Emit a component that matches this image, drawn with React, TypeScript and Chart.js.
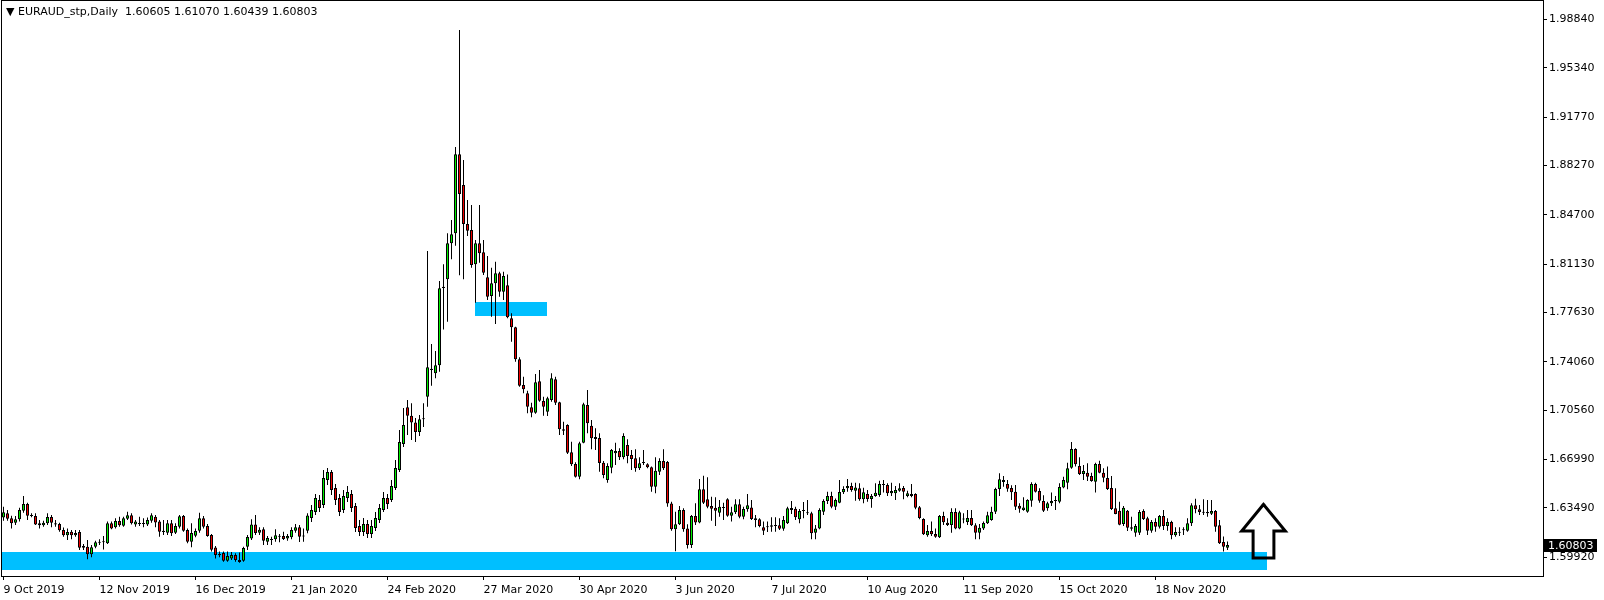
import React, { useEffect, useRef } from 'react';
import { Chart, registerables } from 'chart.js';

Chart.register(...registerables);

const symbolName = 'EURAUD_stp,Daily';

const opens = [
  1.6279,1.6310,1.6274,1.6242,1.6267,1.6329,1.6378,1.6298,1.6291,1.6238,
  1.6223,1.6238,1.6284,1.6238,1.6233,1.6189,1.6151,1.6177,1.6151,1.6175,
  1.6073,1.6069,1.6013,1.6069,1.6098,1.6100,1.6093,1.6238,1.6209,1.6254,
  1.6221,1.6271,1.6296,1.6230,1.6238,1.6232,1.6230,1.6257,1.6286,1.6250,
  1.6184,1.6170,1.6238,1.6170,1.6213,1.6291,1.6189,1.6105,1.6148,1.6184,
  1.6274,1.6218,1.6153,1.6062,1.6016,1.6023,1.5967,1.5984,1.6009,1.5972,
  1.5967,1.6069,1.6127,1.6230,1.6170,1.6194,1.6105,1.6124,1.6122,1.6141,
  1.6146,1.6127,1.6136,1.6184,1.6209,1.6143,1.6184,1.6276,1.6320,1.6406,
  1.6370,1.6551,1.6609,1.6493,1.6421,1.6334,1.6421,1.6450,1.6363,1.6218,
  1.6175,1.6233,1.6160,1.6204,1.6262,1.6334,1.6421,1.6406,1.6493,1.6623,
  1.6812,1.7077,1.7016,1.6968,1.6898,1.6990,1.7154,1.7347,1.7323,1.7381,
  1.7940,1.8003,1.8264,1.8336,1.8908,1.8686,1.8404,1.8360,1.8112,1.8264,
  1.8199,1.8018,1.7883,1.7975,1.8047,1.7914,1.7960,1.7721,1.7656,1.7424,
  1.7238,1.7178,1.7077,1.7038,1.7266,1.7123,1.7045,1.7130,1.7280,1.7113,
  1.6918,1.6949,1.6752,1.6667,1.6575,1.6821,1.7094,1.6944,1.6863,1.6855,
  1.6676,1.6551,1.6640,1.6745,1.6761,1.6715,1.6804,1.6732,1.6708,1.6636,
  1.6674,1.6665,1.6643,1.6503,1.6611,1.6689,1.6682,1.6382,1.6194,1.6231,
  1.6334,1.6201,1.6081,1.6291,1.6243,1.6484,1.6411,1.6363,1.6351,1.6315,
  1.6349,1.6411,1.6293,1.6317,1.6375,1.6286,1.6339,1.6353,1.6274,1.6267,
  1.6209,1.6216,1.6213,1.6218,1.6223,1.6199,1.6238,1.6349,1.6344,1.6267,
  1.6327,1.6315,1.6310,1.6170,1.6201,1.6322,1.6399,1.6435,1.6358,1.6387,
  1.6462,1.6491,1.6508,1.6474,1.6491,1.6411,1.6450,1.6414,1.6435,1.6443,
  1.6522,1.6515,1.6455,1.6455,1.6474,1.6494,1.6435,1.6450,1.6450,1.6354,
  1.6269,1.6151,1.6182,1.6160,1.6136,1.6291,1.6242,1.6226,1.6320,1.6201,
  1.6266,1.6247,1.6276,1.6223,1.6170,1.6201,1.6238,1.6262,1.6322,1.6486,
  1.6551,1.6522,1.6494,1.6467,1.6365,1.6334,1.6322,1.6401,1.6522,1.6472,
  1.6399,1.6346,1.6383,1.6399,1.6394,1.6496,1.6532,1.6640,1.6775,1.6652,
  1.6595,1.6604,1.6580,1.6539,1.6667,1.6604,1.6566,1.6494,1.6346,1.6329,
  1.6233,1.6329,1.6209,1.6170,1.6170,1.6327,1.6274,1.6184,1.6247,1.6213,
  1.6291,1.6218,1.6247,1.6151,1.6170,1.6187,1.6184,1.6238,1.6368,1.6339,
  1.6322,1.6320,1.6307,1.6327,1.6223,1.6102,1.60605
];

const highs = [
  1.6358,1.6334,1.6293,1.6291,1.6351,1.6435,1.6387,1.6310,1.6310,1.6262,
  1.6257,1.6310,1.6298,1.6262,1.6242,1.6208,1.6201,1.6189,1.6189,1.6189,
  1.6088,1.6117,1.6081,1.6112,1.6122,1.6146,1.6250,1.6250,1.6274,1.6286,
  1.6286,1.6322,1.6310,1.6262,1.6286,1.6274,1.6279,1.6310,1.6298,1.6262,
  1.6262,1.6262,1.6262,1.6238,1.6298,1.6298,1.6201,1.6238,1.6201,1.6315,
  1.6291,1.6233,1.6160,1.6074,1.6033,1.6033,1.6033,1.6030,1.6021,1.6026,
  1.6069,1.6153,1.6267,1.6298,1.6209,1.6209,1.6146,1.6141,1.6194,1.6160,
  1.6177,1.6160,1.6209,1.6233,1.6226,1.6201,1.6310,1.6370,1.6450,1.6443,
  1.6623,1.6638,1.6623,1.6522,1.6450,1.6479,1.6508,1.6479,1.6385,1.6262,
  1.6276,1.6262,1.6262,1.6320,1.6377,1.6464,1.6450,1.6551,1.6696,1.6913,
  1.7072,1.7130,1.7106,1.6999,1.7021,1.7106,1.8208,1.7535,1.7485,1.7992,
  1.8112,1.8336,1.8432,1.8961,1.9807,1.8867,1.8577,1.8541,1.8288,1.8541,
  1.8288,1.8172,1.8087,1.8131,1.8058,1.8058,1.8039,1.7758,1.7660,1.7439,
  1.7299,1.7197,1.7110,1.7318,1.7347,1.7154,1.7154,1.7323,1.7299,1.7118,
  1.6973,1.6954,1.6828,1.6679,1.6828,1.7110,1.7202,1.6985,1.6925,1.6890,
  1.6689,1.6672,1.6775,1.6821,1.6780,1.6889,1.6846,1.6768,1.6773,1.6715,
  1.6768,1.6672,1.6648,1.6715,1.6708,1.6773,1.6689,1.6394,1.6322,1.6363,
  1.6346,1.6231,1.6298,1.6383,1.6559,1.6582,1.6571,1.6430,1.6426,1.6406,
  1.6387,1.6419,1.6358,1.6411,1.6411,1.6358,1.6450,1.6406,1.6298,1.6274,
  1.6250,1.6250,1.6281,1.6281,1.6274,1.6291,1.6358,1.6399,1.6358,1.6341,
  1.6392,1.6406,1.6322,1.6226,1.6346,1.6411,1.6467,1.6467,1.6418,1.6551,
  1.6506,1.6559,1.6531,1.6531,1.6527,1.6495,1.6479,1.6450,1.6527,1.6546,
  1.6551,1.6527,1.6531,1.6508,1.6527,1.6508,1.6474,1.6522,1.6455,1.6363,
  1.6274,1.6226,1.6250,1.6201,1.6298,1.6322,1.6274,1.6346,1.6346,1.6329,
  1.6310,1.6334,1.6334,1.6238,1.6233,1.6250,1.6322,1.6358,1.6495,1.6600,
  1.6580,1.6551,1.6513,1.6515,1.6383,1.6426,1.6411,1.6534,1.6531,1.6491,
  1.6440,1.6394,1.6460,1.6435,1.6527,1.6575,1.6676,1.6826,1.6780,1.6715,
  1.6660,1.6672,1.6604,1.6676,1.6691,1.6636,1.6648,1.6580,1.6491,1.6394,
  1.6363,1.6334,1.6286,1.6233,1.6334,1.6339,1.6286,1.6262,1.6274,1.6298,
  1.6334,1.6274,1.6257,1.6209,1.6209,1.6209,1.6274,1.6383,1.6416,1.6370,
  1.6411,1.6406,1.6406,1.6334,1.6262,1.6143,1.61070
];

const lows = [
  1.6257,1.6257,1.6201,1.6226,1.6250,1.6315,1.6262,1.6281,1.6226,1.6201,
  1.6213,1.6226,1.6209,1.6213,1.6177,1.6141,1.6117,1.6122,1.6141,1.6045,
  1.6045,1.5977,1.5992,1.6057,1.6081,1.6049,1.6088,1.6194,1.6201,1.6213,
  1.6213,1.6262,1.6230,1.6213,1.6218,1.6209,1.6218,1.6242,1.6209,1.6141,
  1.6153,1.6153,1.6146,1.6160,1.6201,1.6177,1.6093,1.6064,1.6136,1.6170,
  1.6201,1.6141,1.6033,1.5984,1.5992,1.5960,1.5960,1.5972,1.5960,1.5953,
  1.5960,1.6045,1.6117,1.6153,1.6153,1.6081,1.6081,1.6081,1.6105,1.6100,
  1.6117,1.6112,1.6122,1.6170,1.6102,1.6105,1.6165,1.6247,1.6298,1.6320,
  1.6349,1.6515,1.6443,1.6370,1.6291,1.6312,1.6392,1.6320,1.6175,1.6146,
  1.6146,1.6131,1.6131,1.6182,1.6240,1.6320,1.6341,1.6392,1.6479,1.6609,
  1.6790,1.6877,1.6840,1.6826,1.6870,1.6935,1.7082,1.7234,1.7287,1.7335,
  1.7641,1.7697,1.8148,1.8247,1.8032,1.8003,1.8317,1.8087,1.7834,1.8124,
  1.8034,1.7854,1.7733,1.7680,1.7877,1.7854,1.7721,1.7552,1.7407,1.7226,
  1.7178,1.7034,1.7005,1.7030,1.7118,1.7016,1.7014,1.7118,1.7094,1.6877,
  1.6877,1.6740,1.6652,1.6570,1.6556,1.6817,1.6889,1.6773,1.6768,1.6611,
  1.6564,1.6532,1.6600,1.6660,1.6696,1.6701,1.6672,1.6624,1.6611,1.6624,
  1.6660,1.6636,1.6467,1.6455,1.6587,1.6624,1.6358,1.6184,1.6035,1.6226,
  1.6177,1.6055,1.6060,1.6226,1.6238,1.6378,1.6346,1.6257,1.6218,1.6286,
  1.6262,1.6286,1.6250,1.6305,1.6274,1.6267,1.6322,1.6262,1.6209,1.6209,
  1.6153,1.6175,1.6177,1.6177,1.6190,1.6184,1.6233,1.6305,1.6262,1.6238,
  1.6274,1.6298,1.6122,1.6122,1.6194,1.6298,1.6378,1.6346,1.6334,1.6383,
  1.6450,1.6467,1.6467,1.6401,1.6401,1.6383,1.6394,1.6351,1.6430,1.6430,
  1.6460,1.6436,1.6436,1.6406,1.6467,1.6411,1.6426,1.6426,1.6339,1.6267,
  1.6153,1.6141,1.6146,1.6134,1.6132,1.6226,1.6218,1.6170,1.6194,1.6194,
  1.6238,1.6226,1.6218,1.6122,1.6122,1.6190,1.6233,1.6257,1.6305,1.6435,
  1.6503,1.6467,1.6406,1.6334,1.6315,1.6329,1.6315,1.6358,1.6460,1.6387,
  1.6320,1.6329,1.6363,1.6334,1.6383,1.6491,1.6484,1.6633,1.6648,1.6587,
  1.6551,1.6544,1.6539,1.6460,1.6600,1.6534,1.6479,1.6334,1.6303,1.6223,
  1.6218,1.6182,1.6184,1.6141,1.6153,1.6262,1.6153,1.6170,1.6177,1.6201,
  1.6190,1.6184,1.6122,1.6141,1.6146,1.6153,1.6177,1.6218,1.6310,1.6298,
  1.6298,1.6286,1.6298,1.6177,1.6088,1.6033,1.60439
];

const closes = [
  1.6317,1.6271,1.6238,1.6267,1.6334,1.6378,1.6293,1.6291,1.6230,1.6223,
  1.6242,1.6284,1.6242,1.6230,1.6187,1.6151,1.6175,1.6151,1.6168,1.6061,
  1.6061,1.6013,1.6064,1.6100,1.6105,1.6105,1.6238,1.6201,1.6254,1.6223,
  1.6274,1.6296,1.6238,1.6250,1.6232,1.6238,1.6262,1.6296,1.6243,1.6177,
  1.6175,1.6238,1.6165,1.6218,1.6288,1.6184,1.6105,1.6168,1.6182,1.6274,
  1.6213,1.6146,1.6047,1.6009,1.6006,1.5967,1.6001,1.6009,1.5972,1.5958,
  1.6059,1.6139,1.6230,1.6168,1.6192,1.6112,1.6131,1.6117,1.6151,1.6146,
  1.6124,1.6146,1.6189,1.6209,1.6141,1.6150,1.6295,1.6334,1.6421,1.6349,
  1.6566,1.6609,1.6479,1.6406,1.6320,1.6435,1.6464,1.6349,1.6204,1.6175,
  1.6233,1.6160,1.6218,1.6276,1.6349,1.6421,1.6377,1.6508,1.6638,1.6826,
  1.6949,1.7016,1.6968,1.6898,1.6990,1.6996,1.7367,1.7357,1.7381,1.7938,
  1.7950,1.8264,1.8329,1.8908,1.8620,1.8404,1.8355,1.8107,1.8264,1.8192,
  1.8051,1.7878,1.7975,1.8047,1.7914,1.8027,1.7728,1.7656,1.7424,1.7233,
  1.7207,1.7082,1.7038,1.7258,1.7125,1.7082,1.7142,1.7287,1.7110,1.6918,
  1.6908,1.6749,1.6665,1.6575,1.6817,1.7099,1.6961,1.6853,1.6848,1.6674,
  1.6587,1.6652,1.6768,1.6761,1.6715,1.6870,1.6725,1.6703,1.6636,1.6672,
  1.6682,1.6643,1.6503,1.6618,1.6689,1.6636,1.6382,1.6194,1.6231,1.6334,
  1.6194,1.6081,1.6291,1.6243,1.6484,1.6387,1.6358,1.6344,1.6329,1.6358,
  1.6356,1.6293,1.6317,1.6375,1.6286,1.6341,1.6368,1.6269,1.6262,1.6218,
  1.6184,1.6209,1.6223,1.6226,1.6199,1.6262,1.6346,1.6334,1.6281,1.6327,
  1.6334,1.6310,1.6166,1.6201,1.6334,1.6399,1.6435,1.6358,1.6406,1.6464,
  1.6486,1.6508,1.6479,1.6496,1.6411,1.6462,1.6414,1.6435,1.6459,1.6522,
  1.6515,1.6455,1.6472,1.6479,1.6491,1.6467,1.6455,1.6435,1.6351,1.6276,
  1.6158,1.6182,1.6158,1.6141,1.6291,1.6245,1.6226,1.6320,1.6201,1.6317,
  1.6270,1.6276,1.6223,1.6170,1.6206,1.6240,1.6296,1.6322,1.6486,1.6556,
  1.6537,1.6488,1.6462,1.6358,1.6344,1.6353,1.6406,1.6522,1.6467,1.6401,
  1.6329,1.6383,1.6399,1.6404,1.6501,1.6551,1.6636,1.6775,1.6665,1.6595,
  1.6616,1.6575,1.6544,1.6667,1.6604,1.6568,1.6486,1.6341,1.6305,1.6228,
  1.6351,1.6206,1.6199,1.6218,1.6320,1.6269,1.6184,1.6247,1.6213,1.6291,
  1.6218,1.6247,1.6151,1.6175,1.6175,1.6194,1.6238,1.6368,1.6339,1.6320,
  1.6315,1.6310,1.6327,1.6213,1.6093,1.6068,1.60803
];

// time axis: bar index of each label, and its text
const xTickBars = [0, 24, 48, 72, 96, 120, 144, 168, 192, 216, 240, 264, 288];
const xTickLabels = [
  '9 Oct 2019', '12 Nov 2019', '16 Dec 2019', '21 Jan 2020', '24 Feb 2020',
  '27 Mar 2020', '30 Apr 2020', '3 Jun 2020', '7 Jul 2020', '10 Aug 2020',
  '11 Sep 2020', '15 Oct 2020', '18 Nov 2020'
];

// price axis
const yTickValues = [1.5992, 1.6349, 1.6699, 1.7056, 1.7406, 1.7763, 1.8113, 1.847, 1.8827, 1.9177, 1.9534, 1.9884];
const yTickLabels = yTickValues.map((v) => v.toFixed(5));
const yMin = 1.58565;
const yMax = 2.00172;
const xMin = -0.375;
const xMax = 384.875;

// drawn zones (bar index / price units)
const zoneXFrom = [-0.375, 117.9];
const zoneXTo = [315.9, 135.8];
const zoneYLow = [1.5898, 1.7738];
const zoneYHigh = [1.603, 1.7839];

// drawn up-arrow outline (bar index / price units)
const arrowX = [315.0, 320.45, 317.6, 317.6, 312.4, 312.4, 309.55, 315.0];
const arrowY = [1.6375, 1.6182, 1.6182, 1.5987, 1.5987, 1.6182, 1.6182, 1.6375];

const BULL = '#00F000';
const BEAR = '#F00000';
const ZONE = '#00BFFF';
const FONT = '"DejaVu Sans", sans-serif';

const mtPlugin = {
  id: 'mt4look',
  beforeDatasetsDraw(chart: any) {
    const { ctx, chartArea: a, scales } = chart;
    const x = scales.x;
    const y = scales.y;
    ctx.save();
    ctx.beginPath();
    ctx.rect(a.left, a.top, a.right - a.left, a.bottom - a.top);
    ctx.clip();
    ctx.fillStyle = ZONE;
    for (let k = 0; k < zoneXFrom.length; k++) {
      const l = Math.round(x.getPixelForValue(zoneXFrom[k]));
      const r = Math.round(x.getPixelForValue(zoneXTo[k]));
      const t = Math.round(y.getPixelForValue(zoneYHigh[k]));
      const b = Math.round(y.getPixelForValue(zoneYLow[k]));
      ctx.fillRect(l, t, r - l, b - t);
    }
    ctx.restore();
  },
  afterDraw(chart: any) {
    const { ctx, chartArea: a, scales } = chart;
    const y = scales.y;
    ctx.save();
    ctx.strokeStyle = '#000';
    ctx.lineWidth = 1;
    ctx.strokeRect(a.left - 0.5, a.top - 0.5, a.right - a.left + 1, a.bottom - a.top + 1);
    const last = closes.length - 1;
    const py = Math.round(y.getPixelForValue(closes[last]));
    ctx.fillStyle = '#000';
    ctx.fillRect(a.right + 1, py - 6, 53, 13);
    ctx.fillStyle = '#fff';
    ctx.font = '11px ' + FONT;
    ctx.textBaseline = 'middle';
    ctx.textAlign = 'left';
    ctx.fillText(closes[last].toFixed(5), a.right + 5, py + 1);
    ctx.restore();
  },
};

export default function App() {
  const canvasRef = useRef<HTMLCanvasElement | null>(null);

  useEffect(() => {
    const canvas = canvasRef.current;
    if (!canvas) return;
    const idx = opens.map((_, i) => i);
    const wickData = idx.map((i) => ({ x: i, y: [lows[i], highs[i]] }));
    const bodyData = idx.map((i) => ({ x: i, y: [opens[i], closes[i]] }));
    const bodyColors = idx.map((i) => (closes[i] >= opens[i] ? BULL : BEAR));
    const arrowData = arrowX.map((v, i) => ({ x: v, y: arrowY[i] }));

    const chart = new Chart(canvas, {
      type: 'bar',
      data: {
        datasets: [
          {
            type: 'bar',
            data: wickData as any,
            backgroundColor: '#000',
            borderWidth: 0,
            barThickness: 1,
            grouped: false,
            inflateAmount: 0,
            order: 2,
          } as any,
          {
            type: 'bar',
            data: bodyData as any,
            backgroundColor: bodyColors,
            borderColor: '#000',
            borderWidth: 1,
            borderSkipped: false,
            barThickness: 3,
            minBarLength: 1,
            grouped: false,
            inflateAmount: 0,
            order: 1,
          } as any,
          {
            type: 'line',
            data: arrowData as any,
            borderColor: '#000',
            borderWidth: 3,
            pointRadius: 0,
            tension: 0,
            fill: false,
            borderJoinStyle: 'miter',
            borderCapStyle: 'square',
            order: 0,
          } as any,
        ],
      },
      options: {
        animation: false,
        responsive: false,
        events: [],
        layout: { padding: { left: 2, top: 1, right: 0, bottom: 0 } },
        plugins: { legend: { display: false }, tooltip: { enabled: false }, title: { display: false } },
        scales: {
          x: {
            type: 'linear',
            position: 'bottom',
            min: xMin,
            max: xMax,
            offset: false,
            grid: { offset: false, drawOnChartArea: false, drawTicks: true, tickLength: 4, color: '#000', tickColor: '#000' },
            border: { display: false },
            ticks: {
              autoSkip: false,
              maxRotation: 0,
              minRotation: 0,
              align: 'start',
              padding: 4,
              color: '#000',
              font: { family: FONT, size: 11 },
              callback: (_v: any, i: number) => xTickLabels[i] ?? '',
            },
            afterBuildTicks: (s: any) => {
              s.ticks = xTickBars.map((v) => ({ value: v }));
            },
            afterFit: (s: any) => {
              s.height = 24;
              s.paddingLeft = 0;
              s.paddingRight = 0;
            },
          } as any,
          y: {
            type: 'linear',
            position: 'right',
            min: yMin,
            max: yMax,
            grid: { drawOnChartArea: false, drawTicks: true, tickLength: 4, color: '#000', tickColor: '#000' },
            border: { display: false },
            ticks: {
              autoSkip: false,
              padding: 2,
              color: '#000',
              font: { family: FONT, size: 11 },
              callback: (_v: any, i: number) => yTickLabels[i] ?? '',
            },
            afterBuildTicks: (s: any) => {
              s.ticks = yTickValues.map((v) => ({ value: v }));
            },
            afterFit: (s: any) => {
              s.width = 61;
              s.paddingTop = 0;
              s.paddingBottom = 0;
            },
          } as any,
        },
      } as any,
      plugins: [mtPlugin],
    });
    return () => chart.destroy();
  }, []);

  const last = closes.length - 1;
  const ohlc = [opens[last], highs[last], lows[last], closes[last]].map((v) => v.toFixed(5)).join(' ');

  return (
    <div style={{ position: 'fixed', left: 0, top: 0, width: 1604, height: 600, background: '#fff', overflow: 'hidden' }}>
      <canvas ref={canvasRef} width={1604} height={600} style={{ display: 'block', width: 1604, height: 600 }} />
      <div
        style={{
          position: 'absolute',
          left: 6,
          top: 5,
          fontFamily: FONT,
          fontSize: 11,
          lineHeight: '14px',
          whiteSpace: 'pre',
          color: '#000',
        }}
      >
        {'\u25BC ' + symbolName + '  ' + ohlc}
      </div>
    </div>
  );
}
